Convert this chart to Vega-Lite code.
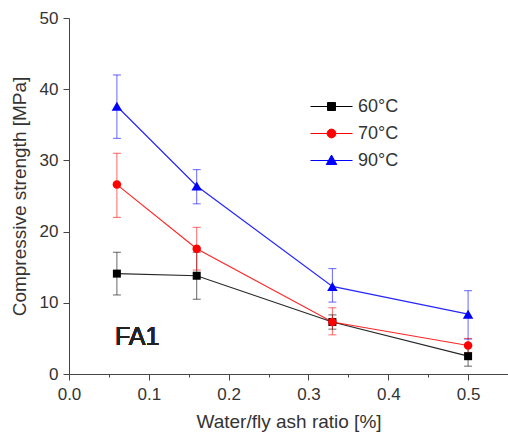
{
  "$schema": "https://vega.github.io/schema/vega-lite/v6.json",
  "width": 439,
  "height": 356,
  "autosize": {"type": "none"},
  "padding": {"left": 69, "top": 18, "right": 0, "bottom": 64},
  "background": "white",
  "config": {
    "view": {"stroke": null},
    "font": "Liberation Sans",
    "axis": {
      "grid": false,
      "domainColor": "#444",
      "tickColor": "#444",
      "labelColor": "#333",
      "titleColor": "#333",
      "labelFont": "Liberation Sans",
      "titleFont": "Liberation Sans",
      "titleFontWeight": "normal",
      "labelFontSize": 17,
      "titleFontSize": 19
    },
    "legend": {
      "title": null,
      "orient": "none",
      "legendX": 241,
      "legendY": 76,
      "padding": 0,
      "symbolSize": 1764,
      "symbolStrokeWidth": 1,
      "symbolOpacity": 1,
      "clipHeight": 25,
      "rowPadding": 2,
      "labelOffset": 5,
      "labelFontSize": 18,
      "labelColor": "#333",
      "labelFont": "Liberation Sans"
    }
  },
  "data": {
    "values": [
      {"series": "60°C", "ratio": 0.06, "strength": 14.1, "lo": 11.1, "hi": 17.1},
      {"series": "60°C", "ratio": 0.16, "strength": 13.8, "lo": 10.5, "hi": 17.1},
      {"series": "60°C", "ratio": 0.33, "strength": 7.3, "lo": 6.3, "hi": 8.3},
      {"series": "60°C", "ratio": 0.5, "strength": 2.5, "lo": 1.1, "hi": 3.9},
      {"series": "70°C", "ratio": 0.06, "strength": 26.6, "lo": 22.0, "hi": 31.0},
      {"series": "70°C", "ratio": 0.16, "strength": 17.6, "lo": 14.6, "hi": 20.6},
      {"series": "70°C", "ratio": 0.33, "strength": 7.3, "lo": 5.5, "hi": 9.3},
      {"series": "70°C", "ratio": 0.5, "strength": 4.0, "lo": 3.0, "hi": 5.0},
      {"series": "90°C", "ratio": 0.06, "strength": 37.6, "lo": 33.1, "hi": 42.0},
      {"series": "90°C", "ratio": 0.16, "strength": 26.4, "lo": 23.9, "hi": 28.7},
      {"series": "90°C", "ratio": 0.33, "strength": 12.3, "lo": 10.1, "hi": 14.8},
      {"series": "90°C", "ratio": 0.5, "strength": 8.4, "lo": 4.9, "hi": 11.7}
    ]
  },
  "encoding": {
    "x": {
      "field": "ratio", "type": "quantitative",
      "scale": {"domain": [0, 0.55], "nice": false, "zero": false},
      "axis": {
        "title": "Water/fly ash ratio [%]",
        "values": [0, 0.05, 0.1, 0.15, 0.2, 0.25, 0.3, 0.35, 0.4, 0.45, 0.5],
        "labelExpr": "abs(datum.value * 10 - round(datum.value * 10)) < 0.001 ? format(datum.value, '.1f') : ''",
        "tickSize": {"condition": {"test": "abs(datum.value * 10 - round(datum.value * 10)) < 0.001", "value": 6}, "value": 3},
        "labelPadding": 6,
        "titlePadding": 10,
        "labelFlush": false,
        "labelOverlap": false
      }
    },
    "color": {
      "field": "series", "type": "nominal",
      "scale": {"domain": ["60°C", "70°C", "90°C"], "range": ["#000000", "#ff0000", "#0000ff"]},
      "legend": {
        "encode": {
          "symbols": {
            "update": {
              "shape": {"signal": "datum.value == '60°C' ? 'M-1,0H1M-0.19,-0.19H0.19V0.19H-0.19Z' : datum.value == '70°C' ? 'M-1,0H1M0.21,0A0.21,0.21 0 1,1 -0.21,0A0.21,0.21 0 1,1 0.21,0Z' : 'M-1,0H1M0,-0.26L0.25,0.19H-0.25Z'"},
              "fill": {"signal": "scale('color', datum.value)"},
              "stroke": {"signal": "scale('color', datum.value)"},
              "strokeWidth": {"value": 1},
              "opacity": {"value": 1}
            }
          }
        }
      }
    }
  },
  "layer": [
    {
      "mark": {"type": "rule", "strokeWidth": 1, "opacity": 0.6},
      "encoding": {
        "y": {"field": "lo", "type": "quantitative"},
        "y2": {"field": "hi"}
      }
    },
    {
      "mark": {"type": "tick", "orient": "horizontal", "size": 8, "thickness": 1, "opacity": 0.6},
      "encoding": {"y": {"field": "lo", "type": "quantitative"}}
    },
    {
      "mark": {"type": "tick", "orient": "horizontal", "size": 8, "thickness": 1, "opacity": 0.6},
      "encoding": {"y": {"field": "hi", "type": "quantitative"}}
    },
    {
      "mark": {"type": "line", "strokeWidth": 1.2, "opacity": 0.85},
      "encoding": {
        "y": {
          "field": "strength", "type": "quantitative",
          "scale": {"domain": [0, 50], "nice": false},
          "axis": {
            "title": "Compressive strength [MPa]",
            "values": [0, 5, 10, 15, 20, 25, 30, 35, 40, 45, 50],
            "labelExpr": "datum.value % 10 == 0 ? format(datum.value, 'd') : ''",
            "tickSize": {"condition": {"test": "datum.value % 10 == 0", "value": 6}, "value": 3},
            "labelPadding": 5,
            "titlePadding": 10,
            "labelFlush": false,
            "labelOverlap": false
          }
        }
      }
    },
    {
      "transform": [{"filter": "datum.series == '60°C'"}],
      "mark": {"type": "point", "shape": "square", "filled": true, "opacity": 1, "size": 64},
      "encoding": {"y": {"field": "strength", "type": "quantitative"}}
    },
    {
      "transform": [{"filter": "datum.series == '70°C'"}],
      "mark": {"type": "point", "shape": "circle", "filled": true, "opacity": 1, "size": 72},
      "encoding": {"y": {"field": "strength", "type": "quantitative"}}
    },
    {
      "transform": [{"filter": "datum.series == '90°C'"}],
      "mark": {"type": "point", "shape": "triangle-up", "filled": true, "opacity": 1, "size": 110},
      "encoding": {"y": {"field": "strength", "type": "quantitative"}}
    },
    {
      "mark": {"type": "text", "text": "FA1", "align": "left", "baseline": "alphabetic", "fontSize": 25, "fontWeight": 400, "font": "Liberation Sans"},
      "encoding": {
        "x": {"datum": 0.0575},
        "y": {"datum": 4.1},
        "color": {"value": "#222"}
      }
    }
  ]
}
